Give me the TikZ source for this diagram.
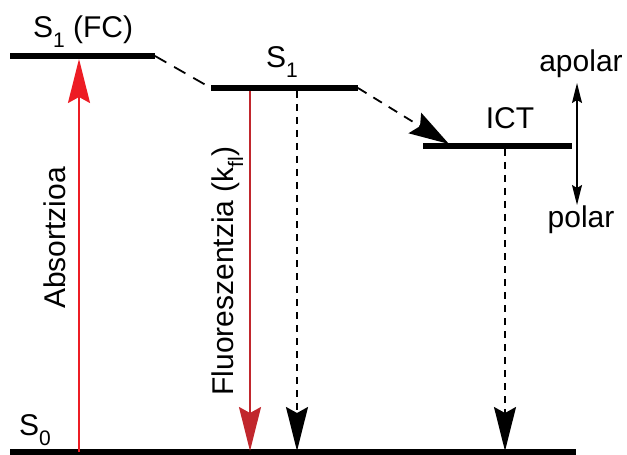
\documentclass[tikz,border=0pt]{standalone}
\usepackage{fontspec}
\setmainfont{Liberation Sans}
\usetikzlibrary{arrows.meta}
\definecolor{absred}{RGB}{237,28,36}
\definecolor{fluored}{RGB}{193,39,45}
% lowered, smaller index text (S_1, k_fl)
\newcommand\lowsub[1]{\raisebox{-10bp}{\fontsize{21bp}{21bp}\selectfont #1}}

\begin{document}
\begin{tikzpicture}[x=1bp,y=-1bp,
  level/.style={line width=5.5bp, line cap=butt},
  lbl/.style={font=\fontsize{30bp}{35bp}\selectfont, inner sep=0pt, anchor=base},
  bighead/.style={-{Stealth[length=44bp,width=22bp,inset=6bp]}},
  transfer/.style={line width=1.8bp, dash pattern=on 7bp off 6bp},
]
\useasboundingbox (0,0) rectangle (627,455);

% energy levels
\coordinate (fcL) at (10,56);   \coordinate (fcR) at (155,56);
\coordinate (s1L) at (211,88);  \coordinate (s1R) at (358,88);
\coordinate (ictL) at (423,146); \coordinate (ictR) at (572,146);
\coordinate (s0L) at (10,452);  \coordinate (s0R) at (576,452);

\draw[level] (fcL) -- (fcR);
\draw[level] (s1L) -- (s1R);
\draw[level] (ictL) -- (ictR);
\draw[level] (s0L) -- (s0R);

% relaxation S1(FC) -> S1 -> ICT
\draw[line width=1.8bp, dash pattern=on 13bp off 9bp] (fcR) -- (s1L);
\coordinate (ictHit) at (449,144);
\draw[line width=1.8bp, dash pattern=on 10bp off 8bp,
      -{Stealth[length=40bp,width=24bp,inset=6bp]}] (s1R) -- (ictHit);

% absorption
\coordinate (absFoot) at (79,452);
\coordinate (absTip) at (79,59);
\draw[absred, line width=2bp, bighead] (absFoot) -- (absTip);

% fluorescence
\coordinate (flTop) at (250,91);
\coordinate (flEnd) at (250,451);
\draw[fluored, line width=2bp, bighead] (flTop) -- (flEnd);

% non-radiative decays
\coordinate (nrTop) at (297,91);
\coordinate (nrEnd) at (297,451);
\draw[transfer, bighead] (nrTop) -- (nrEnd);
\coordinate (ictTop) at (505,149);
\coordinate (ictEnd) at (505,451);
\draw[transfer, bighead] (ictTop) -- (ictEnd);

% solvent polarity
\coordinate (polUp) at (577,83);
\coordinate (polDn) at (577,205);
\draw[line width=1.5bp, {Stealth[length=20bp,width=10bp,inset=3bp]}-{Stealth[length=20bp,width=10bp,inset=3bp]}] (polUp) -- (polDn);

% labels
\node[lbl] (tFC)  at (83,38)   {S\lowsub{1} (FC)};
\node[lbl] (tS1)  at (282,68)  {S\lowsub{1}};
\node[lbl] (tICT) at (510,129) {ICT};
\node[lbl] (tS0)  at (35,435)  {S\lowsub{0}};
\node[lbl] (tApo) at (581,72)  {apolar};
\node[lbl] (tPol) at (581,228) {polar};
\node[lbl, rotate=90] (tAbs) at (65,238) {Absortzioa};
\node[lbl, rotate=90] (tFl)  at (233,271) {Fluoreszentzia (k\lowsub{fl})};
\end{tikzpicture}
\end{document}
